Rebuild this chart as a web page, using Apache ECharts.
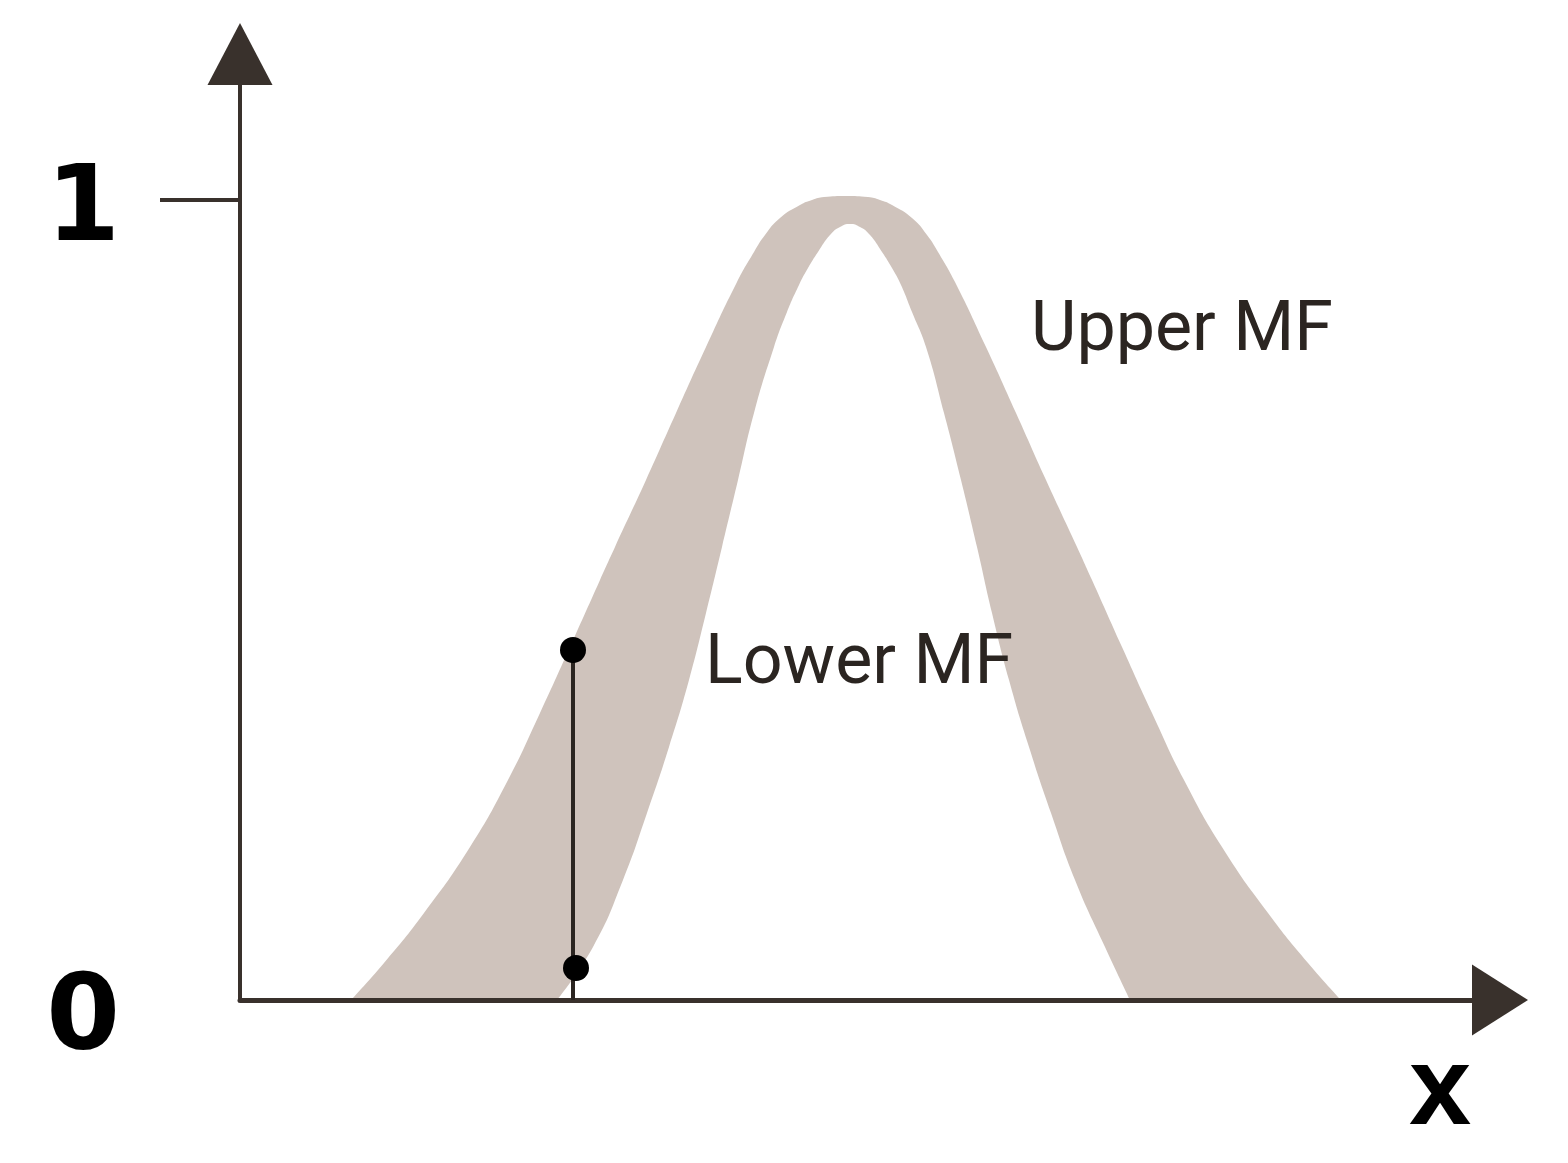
<!DOCTYPE html>
<html><head><meta charset="utf-8">
<script src="https://cdn.jsdelivr.net/npm/echarts@6/dist/echarts.min.js"></script>
<style>html,body{margin:0;padding:0;background:#fff}#c{width:1568px;height:1163px}</style>
</head><body><div id="c"></div>
<script>
// Upper membership function (outer edge of the footprint of uncertainty)
const upperX = [1.11, 1.44, 1.84, 2.30, 2.68, 3.00, 3.30, 3.60, 3.75, 4.06, 4.36, 4.66, 4.97, 5.14, 5.25, 5.40, 5.60, 5.72, 5.84, 6.06,
                6.28, 6.40, 6.52, 6.72, 6.87, 6.98, 7.15, 7.46, 7.76, 8.06, 8.37, 8.52, 8.82, 9.12, 9.44, 9.82, 10.28, 10.68, 11.01];
const upperY = [0, 0.04625, 0.10875, 0.19125, 0.275, 0.35875, 0.44125, 0.525, 0.56625, 0.65, 0.73375, 0.81625, 0.8975, 0.935, 0.95625, 0.9775, 0.99375, 1.0, 1.00375, 1.005,
                1.00375, 1.0, 0.99375, 0.9775, 0.95625, 0.935, 0.8975, 0.81625, 0.73375, 0.65, 0.56625, 0.525, 0.44125, 0.35875, 0.275, 0.19125, 0.10875, 0.04625, 0];
// Lower membership function (inner edge)
const lowerX = [3.17, 3.53, 3.83, 4.07, 4.29, 4.49, 4.66, 4.82, 4.98, 5.14, 5.34, 5.47, 5.59, 5.68, 5.78, 5.90, 6.00, 6.10,
                6.20, 6.30, 6.42, 6.52, 6.61, 6.72, 6.86, 7.04, 7.21, 7.37, 7.52, 7.69, 7.89, 8.11, 8.35, 8.65, 8.90];
const lowerY = [0, 0.06625, 0.15, 0.23375, 0.31625, 0.4, 0.48375, 0.56625, 0.65, 0.73375, 0.81625, 0.86, 0.89375, 0.915, 0.935, 0.95625, 0.96625, 0.97,
                0.96625, 0.95625, 0.935, 0.915, 0.89375, 0.86, 0.81625, 0.73375, 0.65, 0.56625, 0.48375, 0.4, 0.31625, 0.23375, 0.15, 0.06625, 0];
// Vertical slice at a given x
const probeX = [3.33, 3.36];
const probeY = [0.4375, 0.04];
// Axis text
const yTickValues = [0, 1];
const yTickLabels = ['0', '1'];
const xAxisName = 'x';
const curveNames = ['Upper MF', 'Lower MF'];

const zip = (xs, ys) => xs.map((x, i) => [x, ys[i]]);
const ink = '#2b2521';
const axisColor = '#39312c';

const chart = echarts.init(document.getElementById('c'), null, {renderer: 'canvas'});
chart.setOption({
  backgroundColor: '#ffffff',
  animation: false,
  grid: {left: 240, right: 68, top: 54, bottom: 163, containLabel: false, outerBoundsMode: 'none'},
  xAxis: {
    type: 'value', min: 0, max: 12.6, z: 4,
    name: xAxisName, nameLocation: 'end', nameGap: -91,
    nameTextStyle: {fontFamily: 'Liberation Sans', fontWeight: 'bold', fontSize: 112, color: '#000', verticalAlign: 'top', lineHeight: 186},
    axisLine: {show: true, onZero: false, symbol: ['none', 'triangle'], symbolSize: [71, 56], lineStyle: {color: axisColor, width: 5}},
    axisTick: {show: false}, axisLabel: {show: false}, splitLine: {show: false}
  },
  yAxis: {
    type: 'value', min: 0, max: 1.1825, interval: 1, z: 4,
    axisLine: {show: true, onZero: false, symbol: ['none', 'triangle'], symbolSize: [65, 62], lineStyle: {color: axisColor, width: 4}},
    axisTick: {show: true, customValues: [1], length: 80, lineStyle: {color: axisColor, width: 4}},
    axisLabel: {
      show: true, customValues: yTickValues, margin: 120,
      formatter: v => { const i = yTickValues.indexOf(v); const t = i >= 0 ? yTickLabels[i] : ''; return v === 0 ? '{z|' + t + '}' : '{o|' + t + '}'; },
      rich: {
        z: {fontFamily: 'DejaVu Sans', fontWeight: 'bold', fontSize: 106, color: '#000', padding: [42, 0, 0, 0]},
        o: {fontFamily: 'DejaVu Sans', fontWeight: 'bold', fontSize: 106, color: '#000', padding: [24, 0, 0, 0]}
      }
    },
    splitLine: {show: false}
  },
  series: [
    {
      name: curveNames[0], type: 'line', data: zip(upperX, upperY), smooth: 0.5,
      showSymbol: false, lineStyle: {width: 0, opacity: 0}, areaStyle: {color: '#cfc3bc', opacity: 1}, z: 2
    },
    {
      name: curveNames[1], type: 'line', data: zip(lowerX, lowerY), smooth: 0.5,
      showSymbol: false, lineStyle: {width: 0, opacity: 0}, areaStyle: {color: '#ffffff', opacity: 1}, z: 3
    },
    {
      type: 'line', data: [[probeX[0], 0], [probeX[0], probeY[0]]], showSymbol: false,
      lineStyle: {color: ink, width: 4}, z: 5
    },
    {
      type: 'scatter', data: zip(probeX, probeY), symbolSize: 26, itemStyle: {color: '#000', opacity: 1}, z: 6
    }
  ],
  graphic: [
    {type: 'text', left: 1031, top: 297, z: 10, style: {text: curveNames[0], font: '70px Roboto', fill: ink}},
    {type: 'text', left: 705, top: 630, z: 10, style: {text: curveNames[1], font: '70px Roboto', fill: ink}}
  ]
});
</script></body></html>
